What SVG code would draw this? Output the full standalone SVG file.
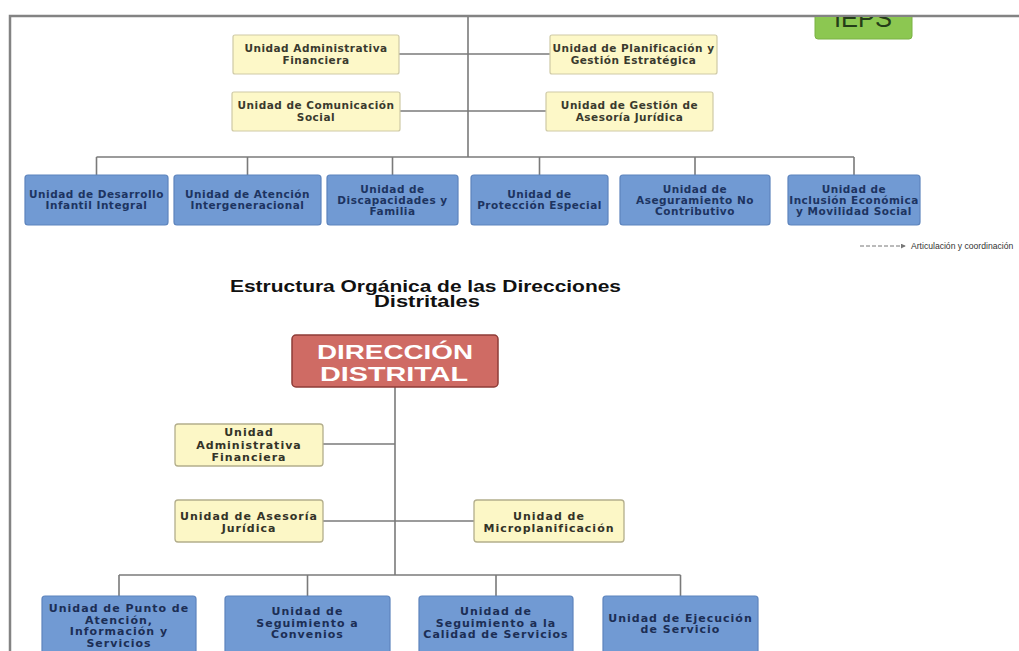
<svg xmlns="http://www.w3.org/2000/svg" width="1019" height="651" viewBox="0 0 1019 651">
<defs>
<clipPath id="belowTop"><rect x="0" y="17" width="1019" height="634"/></clipPath>
<marker id="arr" viewBox="0 0 6 6" refX="5" refY="3" markerWidth="5" markerHeight="5" orient="auto"><path d="M0,0 L6,3 L0,6 z" fill="#777"/></marker>
<style>
.frame{fill:none;stroke:#838383;stroke-width:2.5}
.con{fill:none;stroke:#7a7a7a;stroke-width:1.6}
.ybox{fill:#fdf8c8;stroke:#cfcaa6;stroke-width:1.2}
.ybox2{fill:#fcf7c6;stroke:#b3ae8c;stroke-width:1.3}
.bbox{fill:#719ad3;stroke:#5d84bd;stroke-width:1.2}
.t{font-family:"DejaVu Sans",Verdana,sans-serif;font-weight:bold;text-anchor:middle}
.yt{font-size:10.5px;letter-spacing:.5px;fill:#3a3a2e}
.bt{font-size:10.5px;letter-spacing:.5px;fill:#1d3461}
.yb{font-size:11px;letter-spacing:1px;fill:#333328}
.bb{font-size:11px;letter-spacing:1px;fill:#1c2e55}
.title{font-family:"Liberation Sans",Arial,sans-serif;font-weight:bold;font-size:16px;fill:#111}
.dd{font-family:"Liberation Sans",Arial,sans-serif;font-weight:bold;font-size:20px;fill:#ffffff;text-anchor:middle}
</style>
</defs>
<rect width="1019" height="651" fill="#ffffff"/>

<g id="frame"><path class="frame" d="M10,651 V16 H1019"/></g>

<g id="ieps" clip-path="url(#belowTop)">
<rect x="815" y="-6" width="97" height="45" rx="3" fill="#8cc751" stroke="#7bb244" stroke-width="1"/>
<text x="863" y="27" font-family="Liberation Sans, Arial, sans-serif" font-size="25" text-anchor="middle" fill="#243d18" textLength="58" lengthAdjust="spacingAndGlyphs">IEPS</text>
</g>

<g id="connectors">
<path class="con" d="M468,17 V157"/>
<path class="con" d="M399,54 H550"/>
<path class="con" d="M400,111 H546"/>
<path class="con" d="M96.5,157 H854"/>
<path class="con" d="M96.5,157 V175 M247.5,157 V175 M392.5,157 V175 M539.5,157 V175 M695,157 V175 M854,157 V175"/>
<path class="con" d="M395,387 V575"/>
<path class="con" d="M323,444 H395"/>
<path class="con" d="M323,521 H474"/>
<path class="con" d="M119,575 H680.5"/>
<path class="con" d="M119,575 V596 M307.5,575 V596 M496,575 V596 M680.5,575 V596"/>
</g>

<g id="u-admin-fin">
<rect class="ybox" x="233" y="35" width="166" height="39" rx="2"/>
<text class="t yt" x="316" y="52">Unidad Administrativa</text>
<text class="t yt" x="316" y="64">Financiera</text>
</g>
<g id="u-comunicacion">
<rect class="ybox" x="232" y="92" width="168" height="39" rx="2"/>
<text class="t yt" x="316" y="109">Unidad de Comunicación</text>
<text class="t yt" x="316" y="121">Social</text>
</g>
<g id="u-planificacion">
<rect class="ybox" x="550" y="35" width="167" height="39" rx="2"/>
<text class="t yt" x="633.5" y="52">Unidad de Planificación y</text>
<text class="t yt" x="633.5" y="64">Gestión Estratégica</text>
</g>
<g id="u-asesoria">
<rect class="ybox" x="546" y="92" width="167" height="39" rx="2"/>
<text class="t yt" x="629.5" y="109">Unidad de Gestión de</text>
<text class="t yt" x="629.5" y="121">Asesoría Jurídica</text>
</g>

<g id="u-desarrollo">
<rect class="bbox" x="25" y="175" width="143" height="50" rx="3"/>
<text class="t bt" x="96.5" y="198">Unidad de Desarrollo</text>
<text class="t bt" x="96.5" y="209">Infantil Integral</text>
</g>
<g id="u-atencion">
<rect class="bbox" x="174" y="175" width="147" height="50" rx="3"/>
<text class="t bt" x="247.5" y="198">Unidad de Atención</text>
<text class="t bt" x="247.5" y="209">Intergeneracional</text>
</g>
<g id="u-discapacidades">
<rect class="bbox" x="327" y="175" width="131" height="50" rx="3"/>
<text class="t bt" x="392.5" y="193">Unidad de</text>
<text class="t bt" x="392.5" y="204">Discapacidades y</text>
<text class="t bt" x="392.5" y="215">Familia</text>
</g>
<g id="u-proteccion">
<rect class="bbox" x="471" y="175" width="137" height="50" rx="3"/>
<text class="t bt" x="539.5" y="198">Unidad de</text>
<text class="t bt" x="539.5" y="209">Protección Especial</text>
</g>
<g id="u-aseguramiento">
<rect class="bbox" x="620" y="175" width="150" height="50" rx="3"/>
<text class="t bt" x="695" y="193">Unidad de</text>
<text class="t bt" x="695" y="204">Aseguramiento No</text>
<text class="t bt" x="695" y="215">Contributivo</text>
</g>
<g id="u-inclusion">
<rect class="bbox" x="788" y="175" width="132" height="50" rx="3"/>
<text class="t bt" x="854" y="193">Unidad de</text>
<text class="t bt" x="854" y="204">Inclusión Económica</text>
<text class="t bt" x="854" y="215">y Movilidad Social</text>
</g>

<g id="legend">
<path d="M860,246 H905" fill="none" stroke="#777" stroke-width="1" stroke-dasharray="4,2" marker-end="url(#arr)"/>
<text x="911" y="248.5" font-family="Liberation Sans, Arial, sans-serif" font-size="8.6" fill="#333">Articulación y coordinación</text>
</g>

<g id="title">
<text class="title" x="230" y="292" textLength="391" lengthAdjust="spacingAndGlyphs">Estructura Orgánica de las Direcciones</text>
<text class="title" x="374" y="307" textLength="106" lengthAdjust="spacingAndGlyphs">Distritales</text>
</g>

<g id="direccion-distrital">
<rect x="292" y="335" width="206" height="52" rx="4" fill="#cf6b64" stroke="#8e3c37" stroke-width="1.5"/>
<text class="dd" x="395" y="359" textLength="156" lengthAdjust="spacingAndGlyphs">DIRECCIÓN</text>
<text class="dd" x="394" y="381" textLength="148" lengthAdjust="spacingAndGlyphs">DISTRITAL</text>
</g>

<g id="d-admin-fin">
<rect class="ybox2" x="175" y="424" width="148" height="42" rx="3"/>
<text class="t yb" x="249" y="436">Unidad</text>
<text class="t yb" x="249" y="448.5">Administrativa</text>
<text class="t yb" x="249" y="461">Financiera</text>
</g>
<g id="d-asesoria">
<rect class="ybox2" x="175" y="500" width="148" height="42" rx="3"/>
<text class="t yb" x="249" y="519.5">Unidad de Asesoría</text>
<text class="t yb" x="249" y="531.5">Jurídica</text>
</g>
<g id="d-microplanificacion">
<rect class="ybox2" x="474" y="500" width="150" height="42" rx="3"/>
<text class="t yb" x="549" y="519.5">Unidad de</text>
<text class="t yb" x="549" y="531.5">Microplanificación</text>
</g>

<g id="d-punto-atencion">
<rect class="bbox" x="42" y="596" width="154" height="60" rx="3"/>
<text class="t bb" x="119" y="612">Unidad de Punto de</text>
<text class="t bb" x="119" y="623.5">Atención,</text>
<text class="t bb" x="119" y="635">Información y</text>
<text class="t bb" x="119" y="646.5">Servicios</text>
</g>
<g id="d-convenios">
<rect class="bbox" x="225" y="596" width="165" height="60" rx="3"/>
<text class="t bb" x="307.5" y="615">Unidad de</text>
<text class="t bb" x="307.5" y="626.5">Seguimiento a</text>
<text class="t bb" x="307.5" y="638">Convenios</text>
</g>
<g id="d-calidad">
<rect class="bbox" x="419" y="596" width="154" height="60" rx="3"/>
<text class="t bb" x="496" y="615">Unidad de</text>
<text class="t bb" x="496" y="626.5">Seguimiento a la</text>
<text class="t bb" x="496" y="638">Calidad de Servicios</text>
</g>
<g id="d-ejecucion">
<rect class="bbox" x="603" y="596" width="155" height="60" rx="3"/>
<text class="t bb" x="680.5" y="621.5">Unidad de Ejecución</text>
<text class="t bb" x="680.5" y="633">de Servicio</text>
</g>
</svg>
